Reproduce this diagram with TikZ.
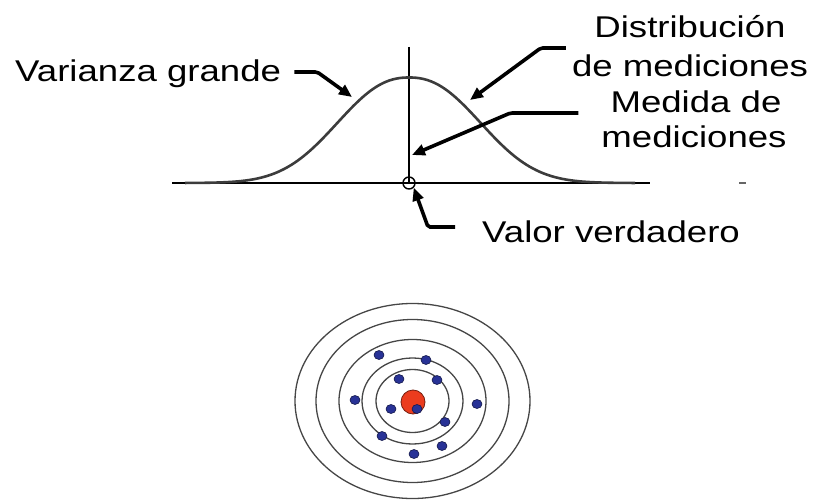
\documentclass[tikz,border=0pt]{standalone}
\usepackage{fontspec}
\newfontfamily\lblfont[FakeStretch=1.22]{Liberation Sans}
\usetikzlibrary{arrows.meta,calc}
\definecolor{curvegray}{RGB}{60,60,60}
\definecolor{ringgray}{RGB}{70,70,70}
\definecolor{shotblue}{RGB}{40,50,150}
\definecolor{bullred}{RGB}{235,60,30}

\begin{document}
\begin{tikzpicture}[x=1pt, y=-1pt,
  lbl/.style={font=\lblfont\fontsize{30}{36}\selectfont, inner sep=0pt},
  ptr/.style={line width=3.6pt, -{Triangle[length=13pt,width=11pt]}, rounded corners=2pt},
  ring/.style={draw=ringgray, line width=1.3pt},
  shot/.style={fill=shotblue, draw=shotblue!50!black, line width=0.6pt}
]
\useasboundingbox (0,0) rectangle (817,500);

% labels
\node[lbl, anchor=base west] (var) at (15,82) {Varianza grande};
\node[lbl, anchor=base] (dist1) at (690,38) {Distribución};
\node[lbl, anchor=base] (dist2) at (690,77) {de mediciones};
\node[lbl, anchor=base] (med1) at (696,113) {Medida de};
\node[lbl, anchor=base] (med2) at (694,148) {mediciones};
\node[lbl, anchor=base west] (val) at (482,242) {Valor verdadero};

% axis, mean line and the curve
\draw[line width=2.2pt] (172,183) -- (650,183);
\draw[line width=1.6pt] (409,47) -- (409,183);
\draw[curvegray, line width=2.6pt]
  plot[domain=185:635, samples=120, smooth] (\x, {183-105.5*exp(-((abs(\x-409)+0.01)/92)^2.3)});
\node[draw, circle, minimum size=12pt, inner sep=0pt, line width=1.4pt] (true) at (409,183) {};
\draw[black!60, line width=1.5pt] (739,183) -- (746,183);

\coordinate (left) at (352,97);
\coordinate (right) at (470,100);
\coordinate (mean) at (412,155);

\draw[ptr] ($(var.base east)+(13,-10)$) -- ++(23,0) -- (left);
\draw[ptr] ($(dist2.base west)+(-6,-29)$) -- ++(-25,0) -- (right);
\draw[ptr] ($(med1.base west)+(-32,0)$) -- ++(-68,0) -- (mean);
\draw[ptr] ($(val.base west)+(-27,-15)$) -- ++(-27,0) -- (true.south east);

% target
\foreach \rx/\ry in {117.5/97.5, 96.5/81.5, 73.5/61.5, 50.5/43, 36.5/31.5}
  \draw[ring] (412.5,401) ellipse [x radius=\rx, y radius=\ry];
\node[draw=bullred!50!black, fill=bullred, circle, minimum size=24pt,
  inner sep=0pt, line width=0.8pt] (bull) at (413,402) {};
\foreach \p in {(379,355),(426,360),(399,379),(437,380),(355,400),(391,409),
                (417,409),(477,404),(445,422),(382,436),(442,446),(414,454)}
  \draw[shot] \p ellipse [x radius=5, y radius=4.5];
\end{tikzpicture}
\end{document}
